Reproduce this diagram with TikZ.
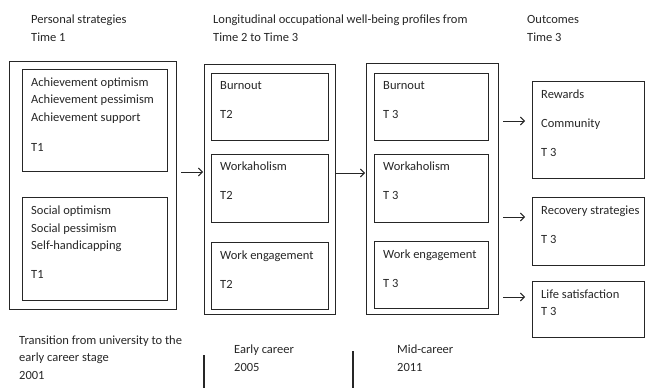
\documentclass[tikz,border=0pt]{standalone}
\usepackage{fontspec}
\setmainfont{Carlito}
\usetikzlibrary{arrows.meta}
\tikzset{
  box/.style={draw=black!85, line width=0.9pt, inner sep=0pt, anchor=north west},
  txt/.style={anchor=base west, inner sep=0pt, text=black!85, font=\fontsize{12.5pt}{15pt}\selectfont},
  arr/.style={draw=black!85, line width=0.9pt, -{Straight Barb[length=4pt,width=8pt,line width=0.9pt]}},
  sep/.style={draw=black!85, line width=1.3pt}
}
\newcommand{\tx}[4]{\node[txt] (#1) at (#2,#3+4.5) {#4};}
\begin{document}
\begin{tikzpicture}[x=1pt,y=-1pt]
\useasboundingbox (0,0) rectangle (648,388);
% headings
\tx{h1a}{31}{19}{Personal strategies}
\tx{h1b}{31}{37}{Time 1}
\tx{h2a}{213}{19}{Longitudinal occupational well-being profiles from}
\tx{h2b}{213}{37}{Time 2 to Time 3}
\tx{h3a}{527}{19}{Outcomes}
\tx{h3b}{527}{37}{Time 3}
% column 1
\node[box, minimum width=167pt, minimum height=248pt] (o1) at (9,61) {};
\node[box, line width=0.8pt, minimum width=145pt, minimum height=102pt] (ba) at (22,69) {};
\node[box, line width=0.8pt, minimum width=145pt, minimum height=103pt] (bb) at (22,197) {};
\tx{ta1}{31}{82}{Achievement optimism}
\tx{ta2}{31}{99}{Achievement pessimism}
\tx{ta3}{31}{117}{Achievement support}
\tx{ta4}{31}{147}{T1}
\tx{tb1}{31}{210}{Social optimism}
\tx{tb2}{31}{228}{Social pessimism}
\tx{tb3}{31}{245}{Self-handicapping}
\tx{tb4}{31}{274}{T1}
% column 2
\node[box, minimum width=131pt, minimum height=250pt] (o2) at (204,64) {};
\node[box, line width=0.8pt, minimum width=117pt, minimum height=67pt] (c2a) at (211,73) {};
\node[box, line width=0.8pt, minimum width=117pt, minimum height=68pt] (c2b) at (211,154) {};
\node[box, line width=0.8pt, minimum width=117pt, minimum height=67pt] (c2c) at (211,242) {};
\tx{t2a1}{220}{85}{Burnout}
\tx{t2a2}{220}{114}{T2}
\tx{t2b1}{220}{166}{Workaholism}
\tx{t2b2}{220}{195}{T2}
\tx{t2c1}{220}{255}{Work engagement}
\tx{t2c2}{220}{284}{T2}
% column 3
\node[box, minimum width=132pt, minimum height=251pt] (o3) at (366,63) {};
\node[box, line width=0.8pt, minimum width=114pt, minimum height=67pt] (c3a) at (374,73) {};
\node[box, line width=0.8pt, minimum width=114pt, minimum height=68pt] (c3b) at (374,154) {};
\node[box, line width=0.8pt, minimum width=114pt, minimum height=67pt] (c3c) at (374,241) {};
\tx{t3a1}{383}{85}{Burnout}
\tx{t3a2}{383}{114}{T 3}
\tx{t3b1}{383}{166}{Workaholism}
\tx{t3b2}{383}{195}{T 3}
\tx{t3c1}{383}{254}{Work engagement}
\tx{t3c2}{383}{283}{T 3}
% outcomes
\node[box, line width=0.8pt, minimum width=112pt, minimum height=97pt] (r1) at (532,81) {};
\node[box, line width=0.8pt, minimum width=112pt, minimum height=68pt] (r2) at (532,197) {};
\node[box, line width=0.8pt, minimum width=112pt, minimum height=56pt] (r3) at (532,281) {};
\tx{tr1}{541}{94}{Rewards}
\tx{tr2}{541}{123}{Community}
\tx{tr3}{541}{152}{T 3}
\tx{tr4}{541}{210}{Recovery strategies}
\tx{tr5}{541}{239}{T 3}
\tx{tr6}{541}{294}{Life satisfaction}
\tx{tr7}{541}{311}{T 3}
% arrows
\coordinate (a1s) at (181,172); \coordinate (a1e) at (203,172);
\coordinate (a2s) at (335,173); \coordinate (a2e) at (365,173);
\coordinate (a3s) at (503,121); \coordinate (a3e) at (525,121);
\coordinate (a4s) at (503,217); \coordinate (a4e) at (525,217);
\coordinate (a5s) at (503,297); \coordinate (a5e) at (525,297);
\draw[arr] (a1s) -- (a1e);
\draw[arr] (a2s) -- (a2e);
\draw[arr] (a3s) -- (a3e);
\draw[arr] (a4s) -- (a4e);
\draw[arr] (a5s) -- (a5e);
% bottom
\tx{p1a}{19}{340}{Transition from university to the}
\tx{p1b}{19}{357}{early career stage}
\tx{p1c}{19}{375}{2001}
\tx{p2a}{234}{349}{Early career}
\tx{p2b}{234}{367}{2005}
\tx{p3a}{397}{349}{Mid-career}
\tx{p3b}{397}{367}{2011}
\coordinate (v1t) at (204,355); \coordinate (v1b) at (204,388);
\coordinate (v2t) at (353,351); \coordinate (v2b) at (353,388);
\draw[sep] (v1t) -- (v1b);
\draw[sep] (v2t) -- (v2b);
\end{tikzpicture}
\end{document}
